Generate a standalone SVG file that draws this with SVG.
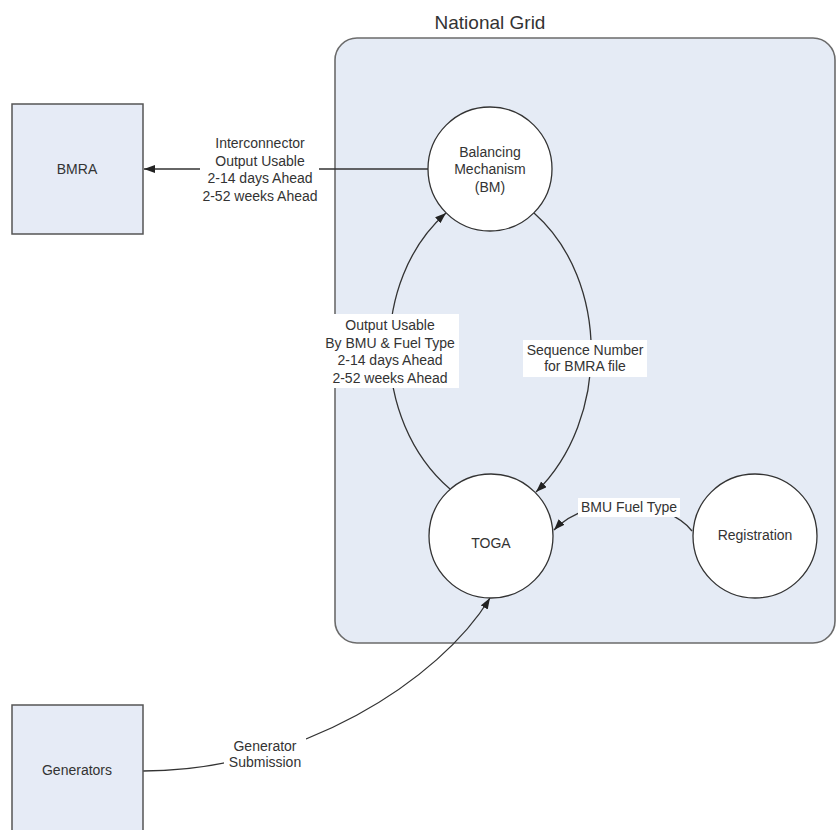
<svg xmlns="http://www.w3.org/2000/svg" width="838" height="830" viewBox="0 0 838 830">
<defs>
<marker id="arr" markerUnits="userSpaceOnUse" markerWidth="12" markerHeight="10" refX="11" refY="4" orient="auto">
<path d="M0,0 L11,4 L0,8 Z" fill="#222"/>
</marker>
<style>
.t{font-family:"Liberation Sans",Arial,sans-serif;font-size:14px;fill:#333;text-anchor:middle}
.box{fill:#e6ebf6;stroke:#555;stroke-width:1.5}
.circ{fill:#fff;stroke:#333;stroke-width:1.3}
.edge{fill:none;stroke:#333;stroke-width:1.3;marker-end:url(#arr)}
.lbg{fill:#fff}
</style>
</defs>
<rect width="838" height="830" fill="#fff"/>
<g id="national-grid">
<rect x="335" y="38" width="500" height="605" rx="22" ry="22" fill="#e5ebf5" stroke="#6b6b6b" stroke-width="1.6"/>
<text class="t" x="490" y="29" style="font-size:19px">National Grid</text>
</g>
<g id="connectors">
<path class="edge" d="M428,169 L144,169"/>
<path class="edge" d="M450,489 C370,420 370,280 446,213"/>
<path class="edge" d="M534,213 C610,280 610,420 536,492"/>
<path class="edge" d="M692,531 C668,500 590,492 554,530"/>
<path class="edge" d="M143,771 C300,771 440,680 490,598"/>
<g id="labels">
<rect class="lbg" x="200" y="132" width="119" height="74"/>
<text class="t" x="260" y="148">Interconnector</text>
<text class="t" x="260" y="165.5">Output Usable</text>
<text class="t" x="260" y="183">2-14 days Ahead</text>
<text class="t" x="260" y="200.5">2-52 weeks Ahead</text>
<rect class="lbg" x="321" y="314" width="138" height="74"/>
<text class="t" x="390" y="330">Output Usable</text>
<text class="t" x="390" y="347.5">By BMU &amp; Fuel Type</text>
<text class="t" x="390" y="365">2-14 days Ahead</text>
<text class="t" x="390" y="382.5">2-52 weeks Ahead</text>
<rect class="lbg" x="523" y="340" width="124" height="37"/>
<text class="t" x="585" y="355">Sequence Number</text>
<text class="t" x="585" y="371">for BMRA file</text>
<rect class="lbg" x="578" y="498" width="102" height="19"/>
<text class="t" x="629" y="512">BMU Fuel Type</text>
<rect class="lbg" x="224" y="735" width="82" height="37"/>
<text class="t" x="265" y="751">Generator</text>
<text class="t" x="265" y="767">Submission</text>
</g>
</g>
<g id="bmra">
<rect class="box" x="12" y="104" width="131" height="130"/>
<text class="t" x="77" y="174">BMRA</text>
</g>
<g id="generators">
<rect class="box" x="12" y="705" width="131" height="135"/>
<text class="t" x="77" y="775">Generators</text>
</g>
<g id="bm">
<circle class="circ" cx="490" cy="169" r="62"/>
<text class="t" x="490" y="157">Balancing</text>
<text class="t" x="490" y="174">Mechanism</text>
<text class="t" x="490" y="192">(BM)</text>
</g>
<g id="toga">
<circle class="circ" cx="491" cy="536" r="62"/>
<text class="t" x="491" y="548">TOGA</text>
</g>
<g id="registration">
<circle class="circ" cx="755" cy="536" r="62"/>
<text class="t" x="755" y="540">Registration</text>
</g>
</svg>
